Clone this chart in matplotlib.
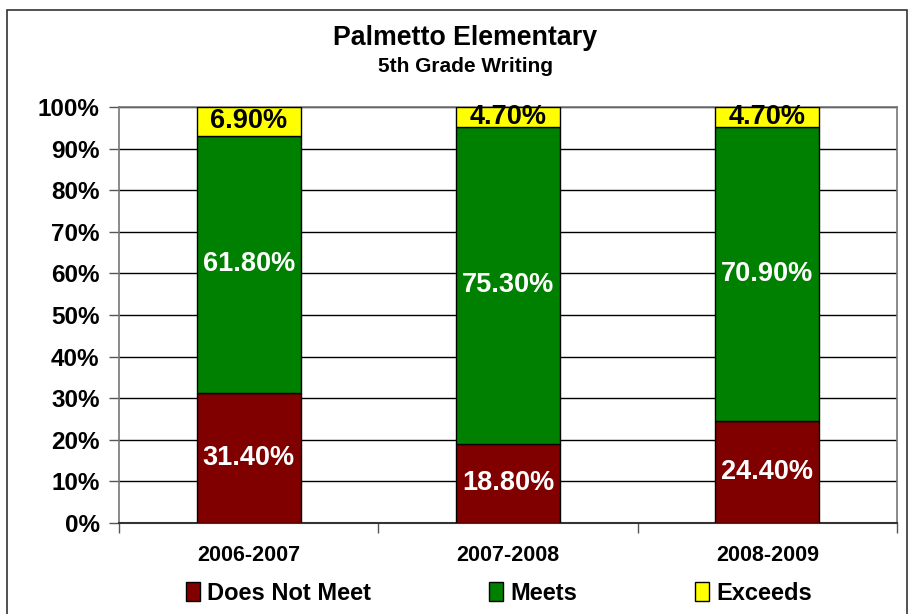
import matplotlib
matplotlib.use("Agg")
import matplotlib.pyplot as plt
from matplotlib.patches import Rectangle
import numpy as np

categories = ["2006-2007", "2007-2008", "2008-2009"]
does_not_meet = [31.4, 18.8, 24.4]
meets = [61.8, 75.3, 70.9]
exceeds = [6.9, 4.7, 4.7]
series_names = ["Does Not Meet", "Meets", "Exceeds"]
series_colors = ["#800000", "#008000", "#FFFF00"]
label_colors = ["white", "white", "black"]
yticks = [0, 10, 20, 30, 40, 50, 60, 70, 80, 90, 100]

plt.rcParams['font.family'] = ['Liberation Sans', 'DejaVu Sans']
plt.rcParams['font.weight'] = 'bold'

fig = plt.figure(figsize=(9.13, 6.14), dpi=100)
fig.patch.set_facecolor("white")
fig.patches.append(Rectangle((7/913, -0.05), 900/913, 1.05 - 10/614, transform=fig.transFigure,
                             fill=False, edgecolor="#333333", linewidth=1.2, zorder=0))

ax = fig.add_axes([119/913, 1 - 523/614, 778/913, 416/614])

series = [does_not_meet, meets, exceeds]
totals = np.sum(np.array(series), axis=0)
x = np.arange(len(categories))
bottom = np.zeros(len(categories))
handles = []
for vals, name, col, lc in zip(series, series_names, series_colors, label_colors):
    vals = np.array(vals)
    h = vals / totals * 100
    b = ax.bar(x, h, 0.4, bottom=bottom, color=col, edgecolor="black", linewidth=1.0,
               label=name, zorder=3)
    handles.append(b)
    for xi, bi, hi, v in zip(x, bottom, h, vals):
        ax.text(xi, bi + hi / 2, f"{v:.2f}%", ha="center", va="center", color=lc,
                fontsize=19.5, fontweight="bold", zorder=4)
    bottom = bottom + h

ax.set_xlim(-0.5, 2.5)
ax.set_ylim(0, 100)
ax.set_yticks(yticks)
ax.set_yticklabels([f"{t}%" for t in yticks], fontsize=17.5, fontweight="bold")
ax.yaxis.grid(True, color="black", linewidth=1.0, zorder=1)
ax.set_axisbelow(True)
ax.tick_params(axis="y", length=7, width=1, color="#555555", pad=7)

ax.set_xticks(x)
ax.set_xticklabels(categories, fontsize=15.5, fontweight="bold")
ax.tick_params(axis="x", which="major", length=0, pad=16)
ax.set_xticks([-0.5, 0.5, 1.5, 2.5], minor=True)
ax.tick_params(axis="x", which="minor", length=7, width=1, color="#555555")

for s in ["top", "right", "left"]:
    ax.spines[s].set_color("#777777")
    ax.spines[s].set_linewidth(1.2)
ax.spines["bottom"].set_color("#333333")
ax.spines["bottom"].set_linewidth(1.5)

fig.text(465/913, 1 - 38/614, "Palmetto Elementary", ha="center", va="center",
         fontsize=19.3, fontweight="bold")
fig.text(465/913, 1 - 67/614, "5th Grade Writing", ha="center", va="center",
         fontsize=15, fontweight="bold")

leg = fig.legend(handles=handles, labels=series_names, loc="center",
                 bbox_to_anchor=(499/913, 1 - 593/614), ncol=3, frameon=False,
                 prop={"size": 17, "weight": "bold"}, handlelength=0.6, handleheight=0.9,
                 handletextpad=0.3, columnspacing=5.0)

fig.savefig("out.png", dpi=100)
